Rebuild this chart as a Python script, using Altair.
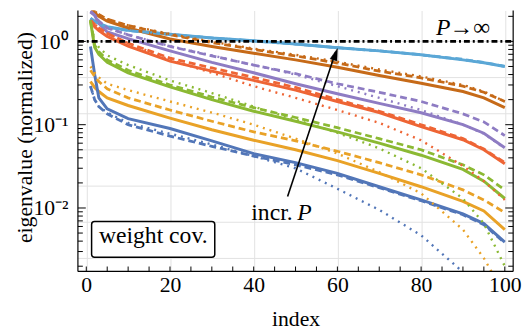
import altair as alt
import pandas as pd

FONT = "Liberation Serif"
FS = 22      # axis labels / titles
FA = 24      # annotations
W, H = 442, 265

IDX = [1, 2, 3, 5, 10, 20, 30, 40, 50, 60, 70, 80, 90, 95, 100]

# values (normalized eigenvalues)
LBLUE_SOLID = [1.9, 1.75, 1.65, 1.5, 1.36, 1.22, 1.1, 1.02, 0.93, 0.84, 0.77, 0.69, 0.6, 0.555, 0.5]
LBLUE_DASH = [1.86, 1.72, 1.62, 1.48, 1.35, 1.21, 1.1, 1.01, 0.93, 0.84, 0.77, 0.69, 0.61, 0.56, 0.5]
LBLUE_DOT = [1.88, 1.74, 1.64, 1.49, 1.36, 1.22, 1.1, 1.02, 0.93, 0.84, 0.77, 0.69, 0.6, 0.555, 0.5]

BROWN_SOLID = [2.55, 2.2, 2.0, 1.75, 1.45, 1.07, 0.87, 0.72, 0.6, 0.49, 0.39, 0.315, 0.25, 0.21, 0.16]
BROWN_DASH = [2.6, 2.3, 2.1, 1.85, 1.55, 1.2, 0.97, 0.8, 0.67, 0.55, 0.44, 0.365, 0.29, 0.245, 0.19]
BROWN_DOT = [2.6, 2.3, 2.1, 1.85, 1.56, 1.23, 0.99, 0.82, 0.69, 0.57, 0.46, 0.38, 0.3, 0.25, 0.19]

PURPLE_SOLID = [2.25, 2.05, 1.65, 1.3, 1.08, 0.77, 0.56, 0.42, 0.31, 0.235, 0.18, 0.139, 0.1, 0.079, 0.053]
PURPLE_DASH = [2.3, 2.1, 1.75, 1.45, 1.2, 0.87, 0.67, 0.52, 0.41, 0.31, 0.245, 0.19, 0.135, 0.108, 0.074]
PURPLE_DOT = [2.3, 2.1, 1.75, 1.45, 1.2, 0.88, 0.68, 0.52, 0.4, 0.29, 0.21, 0.15, 0.1, 0.078, 0.052]

RED_SOLID = [1.75, 1.5, 1.35, 1.15, 0.88, 0.58, 0.44, 0.34, 0.26, 0.19, 0.14, 0.095, 0.066, 0.05, 0.034]
RED_DASH = [1.8, 1.6, 1.45, 1.25, 0.95, 0.63, 0.48, 0.37, 0.28, 0.2, 0.145, 0.1, 0.068, 0.051, 0.035]
RED_DOT = [1.8, 1.6, 1.45, 1.25, 0.95, 0.6, 0.42, 0.29, 0.21, 0.15, 0.105, 0.065, 0.032, 0.021, 0.0125]

GREEN_SOLID = [1.75, 0.85, 0.7, 0.56, 0.42, 0.285, 0.2, 0.145, 0.11, 0.082, 0.06, 0.043, 0.029, 0.021, 0.013]
GREEN_DASH = [1.8, 0.9, 0.75, 0.6, 0.45, 0.3, 0.215, 0.16, 0.122, 0.092, 0.068, 0.05, 0.033, 0.025, 0.0165]
GREEN_DOT = [1.8, 1.0, 0.85, 0.68, 0.52, 0.34, 0.24, 0.165, 0.115, 0.08, 0.052, 0.03, 0.013, 0.0065, 0.002]

ORANGE_SOLID = [0.33, 0.28, 0.25, 0.21, 0.17, 0.12, 0.087, 0.065, 0.05, 0.037, 0.026, 0.018, 0.012, 0.0092, 0.0055]
ORANGE_DASH = [0.45, 0.38, 0.33, 0.27, 0.21, 0.15, 0.11, 0.082, 0.064, 0.048, 0.035, 0.025, 0.0165, 0.0125, 0.0088]
ORANGE_DOT = [0.5, 0.42, 0.37, 0.31, 0.26, 0.19, 0.14, 0.1, 0.068, 0.045, 0.027, 0.015, 0.0055, 0.0025, 0.0009]

BLUE_SOLID = [0.87, 0.4, 0.21, 0.155, 0.118, 0.09, 0.064, 0.045, 0.035, 0.026, 0.018, 0.0125, 0.0085, 0.0065, 0.0039]
BLUE_DASH = [0.29, 0.2, 0.165, 0.135, 0.1, 0.073, 0.055, 0.042, 0.033, 0.025, 0.0175, 0.0122, 0.0083, 0.0063, 0.0038]
BLUE_DOT = [0.29, 0.2, 0.165, 0.14, 0.105, 0.078, 0.058, 0.042, 0.03, 0.017, 0.0095, 0.0047, 0.0017, 0.0009, 0.0004]

GROUPS = ["blue", "orange", "green", "red", "purple", "brown", "lblue"]
COLORS = ["#5276B8", "#E9A227", "#8BB933", "#EE6535", "#8E7CC3", "#C66A18", "#5BA7D6"]

SERIES = {
    ("lblue", "solid"): LBLUE_SOLID, ("lblue", "dash"): LBLUE_DASH, ("lblue", "dot"): LBLUE_DOT,
    ("brown", "solid"): BROWN_SOLID, ("brown", "dash"): BROWN_DASH, ("brown", "dot"): BROWN_DOT,
    ("purple", "solid"): PURPLE_SOLID, ("purple", "dash"): PURPLE_DASH, ("purple", "dot"): PURPLE_DOT,
    ("red", "solid"): RED_SOLID, ("red", "dash"): RED_DASH, ("red", "dot"): RED_DOT,
    ("green", "solid"): GREEN_SOLID, ("green", "dash"): GREEN_DASH, ("green", "dot"): GREEN_DOT,
    ("orange", "solid"): ORANGE_SOLID, ("orange", "dash"): ORANGE_DASH, ("orange", "dot"): ORANGE_DOT,
    ("blue", "solid"): BLUE_SOLID, ("blue", "dash"): BLUE_DASH, ("blue", "dot"): BLUE_DOT,
}

X_TICKS = [0, 20, 40, 60, 80, 100]
X_MINOR = list(range(0, 101, 5))
Y_LABELS = [0.01, 0.1, 1]
Y_MINOR = [0.002, 0.003, 0.004, 0.005, 0.006, 0.007, 0.008, 0.009,
           0.02, 0.03, 0.04, 0.05, 0.06, 0.07, 0.08, 0.09,
           0.2, 0.3, 0.4, 0.5, 0.6, 0.7, 0.8, 0.9, 2]
Y_GRID = [1.0, 0.3679, 0.1353, 0.0498, 0.0183, 0.00674, 0.00248]

rows = []
for (grp, style), vals in SERIES.items():
    for i, v in zip(IDX, vals):
        rows.append({"grp": grp, "style": style, "key": grp + style, "idx": i, "val": v})
df = pd.DataFrame(rows)

XS = alt.Scale(domain=[-2, 102], nice=False, zero=False)
YS = alt.Scale(type="log", domain=[0.00173, 2.35], nice=False)

# titleX / titleY are relative to each axis group (bottom axis origin = bottom of plot)
XA = alt.Axis(values=X_TICKS, labelFont=FONT, labelFontSize=FS, labelColor="black",
              labelPadding=20, labelBaseline="alphabetic", labelFlush=False,
              ticks=False, domain=False, grid=True, gridColor="#e2e2e2", gridWidth=1,
              title="index", titleFont=FONT, titleFontSize=FS, titleFontWeight="normal",
              titleColor="black", titleY=55, titleX=W / 2, titleBaseline="alphabetic",
              titleAlign="center")
YA = alt.Axis(values=Y_LABELS, labelFont=FONT, labelFontSize=FS, labelColor="black",
              labelPadding=10, labelFlush=False, labelOverlap=False,
              labelExpr="datum.value > 0.5 ? '10⁰' : (datum.value > 0.05 ? '10⁻¹' : '10⁻²')",
              ticks=False, domain=False, grid=False,
              title="eigenvalue (normalized)", titleFont=FONT, titleFontSize=FS,
              titleFontWeight="normal", titleColor="black", titleAngle=270,
              titleX=-47, titleY=128.5, titleBaseline="alphabetic", titleAlign="center")

def xq(f):
    return alt.X(f, type="quantitative", scale=XS, axis=XA)

def yq(f):
    return alt.Y(f, type="quantitative", scale=YS, axis=YA)

color = alt.Color("grp:N", scale=alt.Scale(domain=GROUPS, range=COLORS), legend=None)

grid_df = pd.DataFrame({"g": Y_GRID})
hgrid = alt.Chart(grid_df).mark_rule(color="#e2e2e2", strokeWidth=1).encode(
    y=yq("g"), x=alt.value(0), x2=alt.value(W))

base = alt.Chart(df)
solid = base.transform_filter(alt.datum.style == "solid").mark_line(
    strokeWidth=3.0, clip=True).encode(x=xq("idx"), y=yq("val"), color=color, detail="key:N")
dash = base.transform_filter(alt.datum.style == "dash").mark_line(
    strokeWidth=2.8, strokeDash=[7, 4], clip=True).encode(x=xq("idx"), y=yq("val"), color=color, detail="key:N")
dot = base.transform_filter(alt.datum.style == "dot").mark_line(
    strokeWidth=2.4, strokeDash=[2, 5], clip=True).encode(x=xq("idx"), y=yq("val"), color=color, detail="key:N")

one_df = pd.DataFrame({"v": [1.0]})
pinf = alt.Chart(one_df).mark_rule(color="black", strokeWidth=2.8, strokeDash=[6, 3, 2, 3]).encode(
    y=yq("v"), x=alt.value(0), x2=alt.value(W))

# frame (left, bottom, right)
frame_l = alt.Chart(one_df).mark_rule(color="black", strokeWidth=1.2).encode(
    x=alt.value(0), y=alt.value(0), y2=alt.value(H))
frame_r = alt.Chart(one_df).mark_rule(color="black", strokeWidth=1.2).encode(
    x=alt.value(W), y=alt.value(0), y2=alt.value(H))
frame_b = alt.Chart(one_df).mark_rule(color="black", strokeWidth=1.2).encode(
    y=alt.value(H), x=alt.value(0), x2=alt.value(W))

xt_df = pd.DataFrame({"t": X_MINOR})
xticks = alt.Chart(xt_df).mark_rule(color="black", strokeWidth=1).encode(
    x=xq("t"), y=alt.value(H), y2=alt.value(H - 5))
ymaj_df = pd.DataFrame({"t": Y_LABELS})
ymin_df = pd.DataFrame({"t": Y_MINOR})
yl_maj = alt.Chart(ymaj_df).mark_rule(color="black", strokeWidth=1).encode(
    y=yq("t"), x=alt.value(0), x2=alt.value(8))
yl_min = alt.Chart(ymin_df).mark_rule(color="black", strokeWidth=1).encode(
    y=yq("t"), x=alt.value(0), x2=alt.value(5))
yr_maj = alt.Chart(ymaj_df).mark_rule(color="black", strokeWidth=1).encode(
    y=yq("t"), x=alt.value(W - 8), x2=alt.value(W))
yr_min = alt.Chart(ymin_df).mark_rule(color="black", strokeWidth=1).encode(
    y=yq("t"), x=alt.value(W - 5), x2=alt.value(W))

# annotations
box_df = pd.DataFrame({"x0": [1.27], "x1": [30.7], "y0": [0.00689], "y1": [0.00256]})
box = alt.Chart(box_df).mark_rect(fill="white", stroke="black", strokeWidth=1.5, cornerRadius=3).encode(
    x=xq("x0"), x2="x1", y=yq("y0"), y2="y1")
box_txt_df = pd.DataFrame({"x": [16.0], "y": [0.00378], "t": ["weight cov."]})
box_txt = alt.Chart(box_txt_df).mark_text(font=FONT, fontSize=FA, align="center", baseline="alphabetic",
                                          color="black").encode(x=xq("x"), y=yq("y"), text="t:N")

pinf_p_df = pd.DataFrame({"x": [87.0], "y": [1.19], "t": ["P"]})
pinf_p = alt.Chart(pinf_p_df).mark_text(font=FONT, fontSize=FA, fontStyle="italic", align="right",
                                        baseline="alphabetic", color="black").encode(
    x=xq("x"), y=yq("y"), text="t:N")
pinf_r_df = pd.DataFrame({"x": [86.8], "y": [1.19], "t": ["→∞"]})
pinf_r = alt.Chart(pinf_r_df).mark_text(font=FONT, fontSize=FA, align="left",
                                        baseline="alphabetic", color="black").encode(
    x=xq("x"), y=yq("y"), text="t:N")

incr_df = pd.DataFrame({"x": [49.3], "y": [0.00727], "t": ["incr."]})
incr = alt.Chart(incr_df).mark_text(font=FONT, fontSize=FA, align="right", baseline="alphabetic",
                                    color="black").encode(x=xq("x"), y=yq("y"), text="t:N")
incr_p_df = pd.DataFrame({"x": [50.4], "y": [0.00727], "t": ["P"]})
incr_p = alt.Chart(incr_p_df).mark_text(font=FONT, fontSize=FA, fontStyle="italic", align="left",
                                        baseline="alphabetic", color="black").encode(
    x=xq("x"), y=yq("y"), text="t:N")

arrow_df = pd.DataFrame({"x0": [48.1], "y0": [0.0137], "x1": [59.6], "y1": [0.75]})
arrow_line = alt.Chart(arrow_df).mark_rule(color="black", strokeWidth=1.6).encode(
    x=xq("x0"), y=yq("y0"), x2="x1", y2="y1")
tip_df = pd.DataFrame({"x": [60.0], "y": [0.817]})
arrow_tip = alt.Chart(tip_df).mark_point(shape="M0,0L-0.6,2L0.6,2Z", filled=True, fill="black",
                                         stroke="black", strokeWidth=0.5, size=144, angle=19,
                                         opacity=1).encode(x=xq("x"), y=yq("y"))

chart = alt.layer(
    hgrid, solid, dash, dot, pinf, frame_l, frame_r, frame_b, xticks,
    yl_maj, yl_min, yr_maj, yr_min, box, box_txt, pinf_p, pinf_r, incr, incr_p,
    arrow_line, arrow_tip
).properties(
    width=W, height=H,
    autosize=alt.AutoSizeParams(type="none"),
    padding={"left": 71, "top": 0, "right": 11, "bottom": 62},
).configure_view(stroke=None)

chart.save("out.html", embed_options={"renderer": "svg", "actions": False})
